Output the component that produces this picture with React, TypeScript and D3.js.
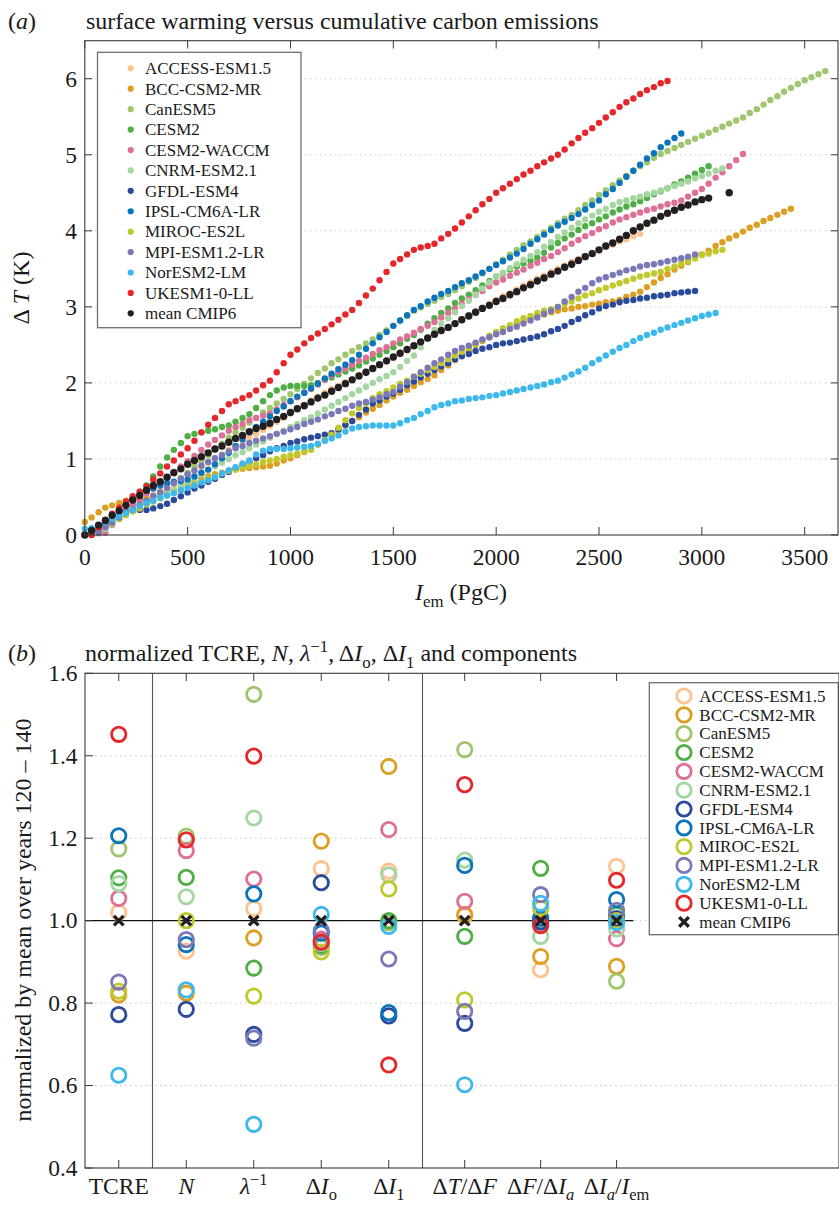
import { useEffect, useRef } from 'react'
import * as d3 from 'd3'

// model names and colours (legend order = drawing order)
const models = [
  'ACCESS-ESM1.5', 'BCC-CSM2-MR', 'CanESM5', 'CESM2', 'CESM2-WACCM', 'CNRM-ESM2.1',
  'GFDL-ESM4', 'IPSL-CM6A-LR', 'MIROC-ES2L', 'MPI-ESM1.2-LR', 'NorESM2-LM', 'UKESM1-0-LL',
]
const modelColors = [
  '#fdc28e', '#dd9f22', '#9fc66e', '#4fae45', '#de6f96', '#a4d6a0',
  '#2a4a9c', '#0b74bd', '#c0c92c', '#7a78b7', '#3db8ec', '#e5262b',
]
const meanColor = '#231f20'

// (a) cumulative emissions (PgC) at which the warming values below are read
const iem = [
  0, 33, 67, 100, 133, 167, 200, 233, 267, 300, 333, 367, 400, 433, 467, 500, 533, 567,
  600, 633, 667, 700, 733, 767, 800, 833, 867, 900, 933, 967, 1000, 1033, 1067, 1100, 1133, 1167,
  1200, 1233, 1267, 1300, 1333, 1367, 1400, 1433, 1467, 1500, 1533, 1567, 1600, 1633, 1667, 1700,
  1733, 1767, 1800, 1833, 1867, 1900, 1933, 1967, 2000, 2033, 2067, 2100, 2133, 2167, 2200, 2233,
  2267, 2300, 2333, 2367, 2400, 2433, 2467, 2500, 2533, 2567, 2600, 2633, 2667, 2700, 2733, 2767,
  2800, 2833, 2867, 2900, 2933, 2967, 3000, 3033, 3067, 3100, 3133, 3167, 3200, 3233, 3267, 3300,
  3333, 3367, 3400, 3433, 3467, 3500, 3533, 3567, 3600,
]

// surface warming (K) per model, aligned with iem
const dtAccess = [
  null, null, 0.03, 0.12, 0.19, 0.25, 0.32, 0.37, 0.43, 0.48, 0.53, 0.58, 0.63, 0.68, 0.74,
  0.79, 0.84, 0.9, 0.95, 1.01, 1.06, 1.12, 1.17, 1.23, 1.28, 1.33, 1.38, 1.43, 1.49, 1.54,
  1.6, 1.66, 1.71, 1.77, 1.82, 1.87, 1.92, 1.96, 2.01, 2.05, 2.1, 2.14, 2.19, 2.24, 2.28,
  2.33, 2.38, 2.43, 2.48, 2.53, 2.58, 2.63, 2.68, 2.73, 2.78, 2.83, 2.89, 2.94, 2.99, 3.04,
  3.09, 3.14, 3.18, 3.23, 3.28, 3.32, 3.37, 3.41, 3.46, 3.5, 3.54, 3.59, 3.63, 3.67, 3.71,
  3.75, 3.79, 3.82, 3.86, 3.89, 3.93, 3.96,
]
const dtBcc = [
  0.17, 0.23, 0.3, 0.36, 0.39, 0.42, 0.45, 0.46, 0.47, 0.48, 0.51, 0.54, 0.57, 0.6, 0.64,
  0.67, 0.7, 0.74, 0.77, 0.8, 0.82, 0.85, 0.86, 0.87, 0.88, 0.89, 0.9, 0.91, 0.94, 0.98,
  1.01, 1.05, 1.09, 1.13, 1.19, 1.25, 1.31, 1.37, 1.44, 1.5, 1.55, 1.61, 1.66, 1.71, 1.77,
  1.82, 1.87, 1.91, 1.96, 2.01, 2.05, 2.1, 2.17, 2.23, 2.3, 2.37, 2.43, 2.5, 2.55, 2.6,
  2.65, 2.69, 2.74, 2.78, 2.81, 2.85, 2.88, 2.9, 2.93, 2.95, 2.97, 2.98, 3.0, 3.01, 3.03,
  3.04, 3.06, 3.07, 3.09, 3.13, 3.16, 3.2, 3.26, 3.32, 3.38, 3.43, 3.49, 3.54, 3.59, 3.64,
  3.69, 3.74, 3.8, 3.85, 3.9, 3.94, 3.99, 4.04, 4.08, 4.13, 4.17, 4.21, 4.25, 4.29,
]
const dtCan = [
  null, 0.01, 0.06, 0.12, 0.18, 0.24, 0.3, 0.35, 0.4, 0.45, 0.51, 0.56, 0.62, 0.69, 0.75,
  0.82, 0.9, 0.97, 1.05, 1.13, 1.2, 1.28, 1.35, 1.41, 1.48, 1.54, 1.61, 1.67, 1.73, 1.79,
  1.85, 1.92, 1.99, 2.06, 2.13, 2.19, 2.26, 2.31, 2.37, 2.42, 2.47, 2.52, 2.57, 2.63, 2.69,
  2.75, 2.82, 2.88, 2.95, 2.99, 3.04, 3.08, 3.13, 3.17, 3.22, 3.27, 3.33, 3.38, 3.44, 3.5,
  3.56, 3.62, 3.69, 3.75, 3.81, 3.86, 3.92, 3.98, 4.04, 4.1, 4.16, 4.21, 4.27, 4.34, 4.4,
  4.47, 4.53, 4.6, 4.66, 4.72, 4.79, 4.85, 4.9, 4.96, 5.01, 5.05, 5.09, 5.13, 5.17, 5.21,
  5.25, 5.29, 5.33, 5.37, 5.41, 5.45, 5.49, 5.55, 5.6, 5.66, 5.72, 5.77, 5.83, 5.88, 5.93,
  5.98, 6.02, 6.06, 6.1,
]
const dtCesm = [
  null, 0.0, 0.06, 0.14, 0.23, 0.31, 0.4, 0.48, 0.57, 0.65, 0.77, 0.9, 1.02, 1.12, 1.21,
  1.3, 1.33, 1.35, 1.37, 1.39, 1.42, 1.44, 1.49, 1.54, 1.59, 1.67, 1.76, 1.84, 1.9, 1.94,
  1.96, 1.96, 1.96, 1.97, 2.0, 2.04, 2.07, 2.11, 2.15, 2.19, 2.23, 2.28, 2.32, 2.37, 2.42,
  2.47, 2.52, 2.58, 2.63, 2.7, 2.78, 2.85, 2.92, 2.98, 3.05, 3.11, 3.16, 3.22, 3.28, 3.34,
  3.4, 3.44, 3.49, 3.53, 3.57, 3.61, 3.65, 3.71, 3.78, 3.84, 3.9, 3.95, 4.01, 4.06, 4.1,
  4.15, 4.19, 4.24, 4.28, 4.32, 4.35, 4.39, 4.43, 4.48, 4.52, 4.56, 4.61, 4.65, 4.7, 4.75,
  4.8, 4.85,
]
const dtWaccm = [
  null, null, null, 0.03, 0.13, 0.22, 0.32, 0.4, 0.47, 0.55, 0.62, 0.69, 0.76, 0.83, 0.9,
  0.97, 1.04, 1.12, 1.19, 1.25, 1.31, 1.37, 1.42, 1.46, 1.51, 1.54, 1.57, 1.6, 1.65, 1.71,
  1.76, 1.81, 1.87, 1.92, 1.98, 2.04, 2.1, 2.15, 2.19, 2.24, 2.29, 2.33, 2.38, 2.43, 2.47,
  2.52, 2.57, 2.61, 2.66, 2.71, 2.75, 2.8, 2.86, 2.92, 2.98, 3.04, 3.1, 3.16, 3.21, 3.27,
  3.32, 3.36, 3.41, 3.45, 3.49, 3.54, 3.58, 3.63, 3.67, 3.72, 3.77, 3.83, 3.88, 3.93, 3.97,
  4.02, 4.06, 4.11, 4.15, 4.18, 4.21, 4.24, 4.27, 4.29, 4.32, 4.35, 4.37, 4.4, 4.45, 4.5,
  4.55, 4.62, 4.7, 4.77, 4.85, 4.93, 5.01,
]
const dtCnrm = [
  null, null, 0.02, 0.08, 0.14, 0.21, 0.27, 0.32, 0.37, 0.42, 0.46, 0.51, 0.55, 0.6, 0.65,
  0.7, 0.75, 0.8, 0.85, 0.9, 0.95, 1.0, 1.05, 1.09, 1.14, 1.19, 1.23, 1.28, 1.33, 1.37,
  1.42, 1.46, 1.51, 1.55, 1.6, 1.65, 1.7, 1.75, 1.8, 1.85, 1.9, 1.95, 2.0, 2.05, 2.09,
  2.14, 2.21, 2.29, 2.36, 2.47, 2.59, 2.7, 2.78, 2.85, 2.93, 3.01, 3.08, 3.16, 3.24, 3.32,
  3.4, 3.45, 3.51, 3.56, 3.62, 3.67, 3.72, 3.79, 3.85, 3.92, 3.98, 4.04, 4.1, 4.15, 4.2,
  4.25, 4.29, 4.34, 4.38, 4.4, 4.43, 4.45, 4.48, 4.5, 4.53, 4.56, 4.59, 4.62, 4.65, 4.69,
  4.72, 4.75, 4.79, 4.82,
]
const dtGfdl = [
  null, null, 0.06, 0.14, 0.2, 0.25, 0.3, 0.32, 0.33, 0.33, 0.35, 0.38, 0.41, 0.46, 0.51,
  0.56, 0.61, 0.65, 0.7, 0.74, 0.79, 0.83, 0.87, 0.92, 0.96, 1.01, 1.05, 1.1, 1.14, 1.17,
  1.21, 1.23, 1.26, 1.28, 1.3, 1.32, 1.34, 1.39, 1.45, 1.5, 1.58, 1.65, 1.73, 1.77, 1.82,
  1.86, 1.91, 1.97, 2.02, 2.07, 2.12, 2.17, 2.22, 2.26, 2.31, 2.35, 2.38, 2.42, 2.45, 2.47,
  2.5, 2.52, 2.53, 2.55, 2.57, 2.59, 2.61, 2.64, 2.68, 2.71, 2.75, 2.8, 2.84, 2.89, 2.93,
  2.98, 3.01, 3.03, 3.06, 3.08, 3.09, 3.11, 3.12, 3.14, 3.15, 3.16, 3.18, 3.19, 3.2, 3.21,
]
const dtIpsl = [
  null, 0.03, 0.1, 0.17, 0.25, 0.32, 0.4, 0.46, 0.52, 0.58, 0.61, 0.65, 0.68, 0.7, 0.71,
  0.73, 0.77, 0.82, 0.86, 0.93, 1.01, 1.08, 1.17, 1.26, 1.35, 1.42, 1.49, 1.56, 1.63, 1.69,
  1.76, 1.82, 1.87, 1.93, 1.99, 2.06, 2.12, 2.18, 2.24, 2.3, 2.37, 2.45, 2.52, 2.6, 2.67,
  2.75, 2.82, 2.89, 2.96, 3.01, 3.07, 3.12, 3.17, 3.21, 3.26, 3.31, 3.35, 3.4, 3.45, 3.5,
  3.55, 3.6, 3.65, 3.7, 3.76, 3.83, 3.89, 3.95, 4.01, 4.07, 4.12, 4.17, 4.22, 4.28, 4.34,
  4.4, 4.48, 4.55, 4.63, 4.71, 4.79, 4.87, 4.95, 5.02, 5.1, 5.16, 5.22, 5.28,
]
const dtMiroc = [
  null, null, 0.03, 0.1, 0.15, 0.21, 0.26, 0.31, 0.35, 0.4, 0.44, 0.48, 0.52, 0.56, 0.59,
  0.63, 0.67, 0.7, 0.74, 0.77, 0.81, 0.84, 0.86, 0.89, 0.91, 0.93, 0.96, 0.98, 1.0, 1.03,
  1.05, 1.07, 1.1, 1.12, 1.19, 1.25, 1.32, 1.41, 1.51, 1.6, 1.67, 1.73, 1.8, 1.85, 1.89,
  1.94, 1.99, 2.03, 2.08, 2.12, 2.17, 2.21, 2.26, 2.31, 2.36, 2.41, 2.46, 2.51, 2.56, 2.62,
  2.67, 2.72, 2.76, 2.81, 2.85, 2.88, 2.92, 2.95, 2.97, 3.0, 3.04, 3.07, 3.11, 3.15, 3.18,
  3.22, 3.25, 3.28, 3.31, 3.34, 3.37, 3.4, 3.42, 3.44, 3.46, 3.5, 3.53, 3.57, 3.61, 3.64,
  3.68, 3.7, 3.73, 3.75,
]
const dtMpi = [
  null, null, 0.03, 0.1, 0.16, 0.23, 0.29, 0.34, 0.4, 0.45, 0.51, 0.56, 0.62, 0.68, 0.74,
  0.8, 0.85, 0.91, 0.96, 1.01, 1.05, 1.1, 1.14, 1.17, 1.21, 1.24, 1.27, 1.3, 1.33, 1.36,
  1.39, 1.42, 1.46, 1.49, 1.52, 1.56, 1.59, 1.63, 1.66, 1.7, 1.73, 1.75, 1.78, 1.81, 1.85,
  1.88, 1.95, 2.01, 2.08, 2.14, 2.2, 2.26, 2.31, 2.37, 2.42, 2.46, 2.49, 2.53, 2.57, 2.6,
  2.64, 2.67, 2.71, 2.74, 2.78, 2.82, 2.86, 2.91, 2.95, 3.0, 3.07, 3.13, 3.2, 3.25, 3.31,
  3.36, 3.39, 3.42, 3.45, 3.48, 3.5, 3.53, 3.55, 3.56, 3.58, 3.6, 3.62, 3.64, 3.66, 3.69,
]
const dtNor = [
  0.08, 0.09, 0.13, 0.17, 0.21, 0.25, 0.29, 0.33, 0.38, 0.42, 0.45, 0.49, 0.52, 0.55, 0.59,
  0.62, 0.65, 0.69, 0.72, 0.76, 0.81, 0.85, 0.89, 0.94, 0.98, 1.06, 1.11, 1.13, 1.13, 1.13,
  1.14, 1.15, 1.16, 1.17, 1.2, 1.24, 1.27, 1.31, 1.36, 1.4, 1.42, 1.43, 1.44, 1.44, 1.44,
  1.44, 1.47, 1.51, 1.54, 1.59, 1.63, 1.68, 1.71, 1.73, 1.76, 1.77, 1.79, 1.8, 1.81, 1.83,
  1.84, 1.86, 1.88, 1.9, 1.92, 1.94, 1.96, 1.98, 2.01, 2.03, 2.07, 2.11, 2.15, 2.2, 2.26,
  2.31, 2.36, 2.41, 2.46, 2.5, 2.55, 2.59, 2.63, 2.66, 2.7, 2.73, 2.76, 2.79, 2.82, 2.85,
  2.88, 2.9, 2.92,
]
const dtUk = [
  null, 0.0, 0.1, 0.2, 0.28, 0.36, 0.44, 0.51, 0.57, 0.64, 0.73, 0.81, 0.9, 0.98, 1.06,
  1.14, 1.24, 1.35, 1.45, 1.54, 1.63, 1.72, 1.76, 1.8, 1.84, 1.9, 1.97, 2.03, 2.14, 2.26,
  2.37, 2.44, 2.52, 2.59, 2.65, 2.71, 2.77, 2.83, 2.9, 2.96, 3.05, 3.15, 3.24, 3.35, 3.46,
  3.57, 3.63, 3.69, 3.75, 3.78, 3.8, 3.83, 3.9, 3.96, 4.03, 4.11, 4.19, 4.27, 4.35, 4.42,
  4.5, 4.56, 4.62, 4.68, 4.74, 4.79, 4.85, 4.9, 4.95, 5.0, 5.07, 5.15, 5.22, 5.29, 5.35,
  5.42, 5.49, 5.56, 5.63, 5.69, 5.74, 5.8, 5.85, 5.89, 5.94, 5.97,
]
const dtMean = [
  0, 0.06, 0.13, 0.19, 0.26, 0.32, 0.39, 0.46, 0.52, 0.59, 0.65, 0.7, 0.76, 0.82, 0.87,
  0.93, 0.98, 1.03, 1.08, 1.13, 1.17, 1.22, 1.27, 1.31, 1.36, 1.4, 1.43, 1.47, 1.52, 1.56,
  1.61, 1.66, 1.7, 1.75, 1.8, 1.84, 1.89, 1.94, 1.99, 2.04, 2.09, 2.14, 2.19, 2.24, 2.29,
  2.34, 2.39, 2.44, 2.49, 2.54, 2.59, 2.64, 2.69, 2.73, 2.78, 2.83, 2.88, 2.93, 2.98, 3.02,
  3.07, 3.11, 3.16, 3.2, 3.25, 3.29, 3.34, 3.38, 3.43, 3.47, 3.52, 3.56, 3.61, 3.66, 3.7,
  3.75, 3.8, 3.84, 3.89, 3.94, 4.0, 4.05, 4.1, 4.14, 4.19, 4.23, 4.27, 4.31, 4.34, 4.38,
  4.41, 4.43, null, null, 4.5,
]
const warming = [
  dtAccess, dtBcc, dtCan, dtCesm, dtWaccm, dtCnrm, dtGfdl, dtIpsl, dtMiroc, dtMpi, dtNor, dtUk,
]

// (b) normalised quantities, one value per model (same order as models)
const tcre = [1.02, 0.82, 1.174, 1.104, 1.054, 1.09, 0.772, 1.206, 0.829, 0.851, 0.625, 1.452]
const nFactor = [0.926, 0.824, 1.205, 1.105, 1.17, 1.058, 0.785, 0.942, 1.0, 0.954, 0.832, 1.196]
const lambdaInv = [1.029, 0.958, 1.549, 0.885, 1.101, 1.249, 0.724, 1.065, 0.817, 0.715, 0.506, 1.399]
const dIo = [1.126, 1.193, 0.935, 0.94, 0.955, 0.945, 1.092, 0.97, 0.924, 0.976, 1.015, 0.948]
const dI1 = [1.12, 1.374, 0.995, 1.0, 1.221, 1.111, 0.769, 0.777, 1.077, 0.907, 0.986, 0.65]
const dTdF = [1.011, 1.015, 1.415, 0.962, 1.047, 1.147, 0.751, 1.134, 0.808, 0.78, 0.602, 1.33]
const dFdIa = [0.881, 0.913, 1.003, 1.127, 0.992, 0.962, 0.997, 1.006, 1.03, 1.063, 1.042, 0.988]
const dIaIem = [1.132, 0.889, 0.853, 1.015, 0.956, 0.98, 1.005, 1.051, 1.0, 1.025, 0.995, 1.098]
const components = [tcre, nFactor, lambdaInv, dIo, dI1, dTdF, dFdIa, dIaIem]
const componentPos = [1, 2, 3, 4, 5, 6.125, 7.25, 8.375]
const separators = [1.5, 5.5]

type Part = { t: string; i?: boolean; sub?: boolean; sup?: boolean }
const componentLabels: Part[][] = [
  [{ t: 'TCRE' }],
  [{ t: 'N', i: true }],
  [{ t: 'λ', i: true }, { t: '−1', sup: true }],
  [{ t: 'Δ' }, { t: 'I', i: true }, { t: 'o', sub: true }],
  [{ t: 'Δ' }, { t: 'I', i: true }, { t: '1', sub: true }],
  [{ t: 'Δ' }, { t: 'T', i: true }, { t: '/Δ' }, { t: 'F', i: true }],
  [{ t: 'Δ' }, { t: 'F', i: true }, { t: '/Δ' }, { t: 'I', i: true }, { t: 'a', i: true, sub: true }],
  [{ t: 'Δ' }, { t: 'I', i: true }, { t: 'a', i: true, sub: true }, { t: '/' }, { t: 'I', i: true }, { t: 'em', sub: true }],
]

const font = '"Liberation Serif", "Times New Roman", serif'

function rich(
  g: d3.Selection<SVGGElement, unknown, null, undefined>,
  x: number,
  y: number,
  parts: Part[],
  size: number,
  anchor = 'start',
  subShift = 0.3,
) {
  const text = g
    .append('text')
    .attr('x', x)
    .attr('y', y)
    .attr('font-size', size)
    .attr('text-anchor', anchor)
    .attr('fill', '#1a1a1a')
  let shift = 0
  parts.forEach((p) => {
    const want = p.sub ? size * subShift : p.sup ? -size * 0.38 : 0
    text
      .append('tspan')
      .attr('dy', want - shift)
      .attr('font-style', p.i ? 'italic' : 'normal')
      .attr('font-size', p.sub || p.sup ? size * 0.7 : size)
      .text(p.t)
    shift = want
  })
  return text
}

export default function App() {
  const svgRef = useRef<SVGSVGElement>(null)

  useEffect(() => {
    if (!svgRef.current) return
    const svg = d3.select(svgRef.current)
    svg.selectAll('*').remove()
    const root = svg.append('g').attr('font-family', font)

    const frame = '#3a3a3a'
    const gridColor = '#c9c9c9'

    // ---------- panel (a) ----------
    const x = d3.scaleLinear().domain([0, 3662]).range([84.8, 838])
    const y = d3.scaleLinear().domain([0, 6.5]).range([535, 40.7])
    const a = root.append('g')

    a.selectAll('.grid')
      .data(d3.range(1, 7))
      .enter()
      .append('line')
      .attr('x1', x.range()[0])
      .attr('x2', x.range()[1])
      .attr('y1', (d) => y(d))
      .attr('y2', (d) => y(d))
      .attr('stroke', gridColor)
      .attr('stroke-dasharray', '1.5,3.5')

    const xTicks = d3.range(0, 3501, 500)
    const yTicks = d3.range(0, 7)
    xTicks.forEach((t) => {
      a.append('line').attr('x1', x(t)).attr('x2', x(t)).attr('y1', 535).attr('y2', 527).attr('stroke', frame)
      a.append('line').attr('x1', x(t)).attr('x2', x(t)).attr('y1', 40.7).attr('y2', 48.5).attr('stroke', frame)
      a.append('text')
        .attr('x', x(t))
        .attr('y', 564.5)
        .attr('text-anchor', 'middle')
        .attr('font-size', 23.5)
        .attr('fill', '#1a1a1a')
        .text(t)
    })
    yTicks.forEach((t) => {
      a.append('line').attr('x1', 84.8).attr('x2', 92).attr('y1', y(t)).attr('y2', y(t)).attr('stroke', frame)
      a.append('line').attr('x1', 831).attr('x2', 838).attr('y1', y(t)).attr('y2', y(t)).attr('stroke', frame)
      a.append('text')
        .attr('x', 77)
        .attr('y', y(t) + 7.8)
        .attr('text-anchor', 'end')
        .attr('font-size', 23.5)
        .attr('fill', '#1a1a1a')
        .text(t)
    })

    // legend (a)
    const la = a.append('g')
    la.append('rect')
      .attr('x', 97.5)
      .attr('y', 52.3)
      .attr('width', 203.5)
      .attr('height', 275.4)
      .attr('fill', '#fff')
      .attr('stroke', '#6e6e6e')
      .attr('stroke-width', 1.3)
    const legA = [...models, 'mean CMIP6']
    const legAColors = [...modelColors, meanColor]
    legA.forEach((m, i) => {
      const yy = 68.3 + i * 20.42
      la.append('circle').attr('cx', 130.7).attr('cy', yy).attr('r', 3.1).attr('fill', legAColors[i])
      la.append('text')
        .attr('x', 145)
        .attr('y', yy + 5.8)
        .attr('font-size', 17)
        .attr('fill', '#1a1a1a')
        .text(m)
    })

    // dots
    const series = [...warming, dtMean]
    series.forEach((vals, s) => {
      const pts = vals
        .map((v, i) => ({ e: iem[i], v }))
        .filter((p) => p.v !== null && p.v !== undefined) as { e: number; v: number }[]
      a.append('g')
        .selectAll('circle')
        .data(pts)
        .enter()
        .append('circle')
        .attr('cx', (d) => x(d.e))
        .attr('cy', (d) => y(d.v))
        .attr('r', s === series.length - 1 ? 3.7 : 3.2)
        .attr('fill', legAColors[s])
    })

    a.append('rect')
      .attr('x', 84.8)
      .attr('y', 40.7)
      .attr('width', 838 - 84.8)
      .attr('height', 535 - 40.7)
      .attr('fill', 'none')
      .attr('stroke', frame)
      .attr('stroke-width', 1.1)

    // titles (a)
    rich(a, 8, 29, [{ t: '(' }, { t: 'a', i: true }, { t: ')' }], 24)
    rich(a, 86, 29, [{ t: 'surface warming versus cumulative carbon emissions' }], 24)
    rich(a, 461, 600, [{ t: 'I', i: true }, { t: 'em', sub: true }, { t: ' (PgC)' }], 24, 'middle')
    rich(a, 0, 0, [{ t: 'Δ ' }, { t: 'T', i: true }, { t: ' (K)' }], 24, 'middle').attr(
      'transform',
      'translate(29,288) rotate(-90)',
    )

    // ---------- panel (b) ----------
    const xb = d3.scaleLinear().domain([0.5, 11.67]).range([85, 839])
    const yb = d3.scaleLinear().domain([0.4, 1.6]).range([1168, 673.3])
    const b = root.append('g')

    b.selectAll('.gridb')
      .data([0.6, 0.8, 1.0, 1.2, 1.4])
      .enter()
      .append('line')
      .attr('x1', 85)
      .attr('x2', 839)
      .attr('y1', (d) => yb(d))
      .attr('y2', (d) => yb(d))
      .attr('stroke', gridColor)
      .attr('stroke-dasharray', '1.5,3.5')

    separators.forEach((p) => {
      b.append('line')
        .attr('x1', xb(p))
        .attr('x2', xb(p))
        .attr('y1', 673.3)
        .attr('y2', 1168)
        .attr('stroke', '#555')
        .attr('stroke-width', 1.1)
    })

    b.append('line')
      .attr('x1', xb(0.5))
      .attr('x2', xb(8.625))
      .attr('y1', yb(1))
      .attr('y2', yb(1))
      .attr('stroke', '#111')
      .attr('stroke-width', 1.3)

    componentPos.forEach((p, k) => {
      b.append('line').attr('x1', xb(p)).attr('x2', xb(p)).attr('y1', 1168).attr('y2', 1160).attr('stroke', frame)
      b.append('line').attr('x1', xb(p)).attr('x2', xb(p)).attr('y1', 673.3).attr('y2', 681).attr('stroke', frame)
      rich(b, xb(p), 1194, componentLabels[k], 23.5, 'middle', 0.24)
    })
    ;[0.4, 0.6, 0.8, 1.0, 1.2, 1.4, 1.6].forEach((t) => {
      b.append('line').attr('x1', 85).attr('x2', 93).attr('y1', yb(t)).attr('y2', yb(t)).attr('stroke', frame)
      b.append('text')
        .attr('x', 77.5)
        .attr('y', yb(t) + 7.8)
        .attr('text-anchor', 'end')
        .attr('font-size', 23.5)
        .attr('fill', '#1a1a1a')
        .text(t.toFixed(1))
    })

    const drawCross = (g: d3.Selection<SVGGElement, unknown, null, undefined>, cx: number, cy: number) => {
      const h = 4.8
      g.append('path')
        .attr('d', `M${cx - h},${cy - h}L${cx + h},${cy + h}M${cx - h},${cy + h}L${cx + h},${cy - h}`)
        .attr('stroke', meanColor)
        .attr('stroke-width', 3.3)
        .attr('fill', 'none')
    }

    const marks = b.append('g')
    models.forEach((_, m) => {
      componentPos.forEach((p, k) => {
        marks
          .append('circle')
          .attr('cx', xb(p))
          .attr('cy', yb(components[k][m]))
          .attr('r', 7.2)
          .attr('fill', 'none')
          .attr('stroke', modelColors[m])
          .attr('stroke-width', 2.8)
      })
    })
    componentPos.forEach((p) => drawCross(marks, xb(p), yb(1)))

    // legend (b)
    const lb = b.append('g')
    lb.append('rect')
      .attr('x', 649.3)
      .attr('y', 682.7)
      .attr('width', 189)
      .attr('height', 252)
      .attr('fill', '#fff')
      .attr('stroke', '#6e6e6e')
      .attr('stroke-width', 1.3)
    legA.forEach((m, i) => {
      const yy = 696 + i * 18.83
      if (i < models.length) {
        lb.append('circle')
          .attr('cx', 684)
          .attr('cy', yy)
          .attr('r', 7.2)
          .attr('fill', 'none')
          .attr('stroke', modelColors[i])
          .attr('stroke-width', 2.8)
      } else {
        drawCross(lb, 684, yy)
      }
      lb.append('text')
        .attr('x', 699.3)
        .attr('y', yy + 5.8)
        .attr('font-size', 17)
        .attr('fill', '#1a1a1a')
        .text(m)
    })

    b.append('rect')
      .attr('x', 85)
      .attr('y', 673.3)
      .attr('width', 839 - 85)
      .attr('height', 1168 - 673.3)
      .attr('fill', 'none')
      .attr('stroke', frame)
      .attr('stroke-width', 1.1)

    // titles (b)
    rich(b, 8, 661, [{ t: '(' }, { t: 'b', i: true }, { t: ')' }], 24)
    rich(
      b,
      85,
      661,
      [
        { t: 'normalized TCRE, ' },
        { t: 'N', i: true },
        { t: ', ' },
        { t: 'λ', i: true },
        { t: '−1', sup: true },
        { t: ', Δ' },
        { t: 'I', i: true },
        { t: 'o', sub: true },
        { t: ', Δ' },
        { t: 'I', i: true },
        { t: '1', sub: true },
        { t: ' and components' },
      ],
      24,
    )
    rich(b, 0, 0, [{ t: 'normalized by mean over years 120 – 140' }], 24, 'middle').attr(
      'transform',
      'translate(31,920) rotate(-90)',
    )
  }, [])

  return (
    <svg
      ref={svgRef}
      width={839}
      height={1207}
      style={{ position: 'absolute', left: 0, top: 0, background: '#fff' }}
    />
  )
}
